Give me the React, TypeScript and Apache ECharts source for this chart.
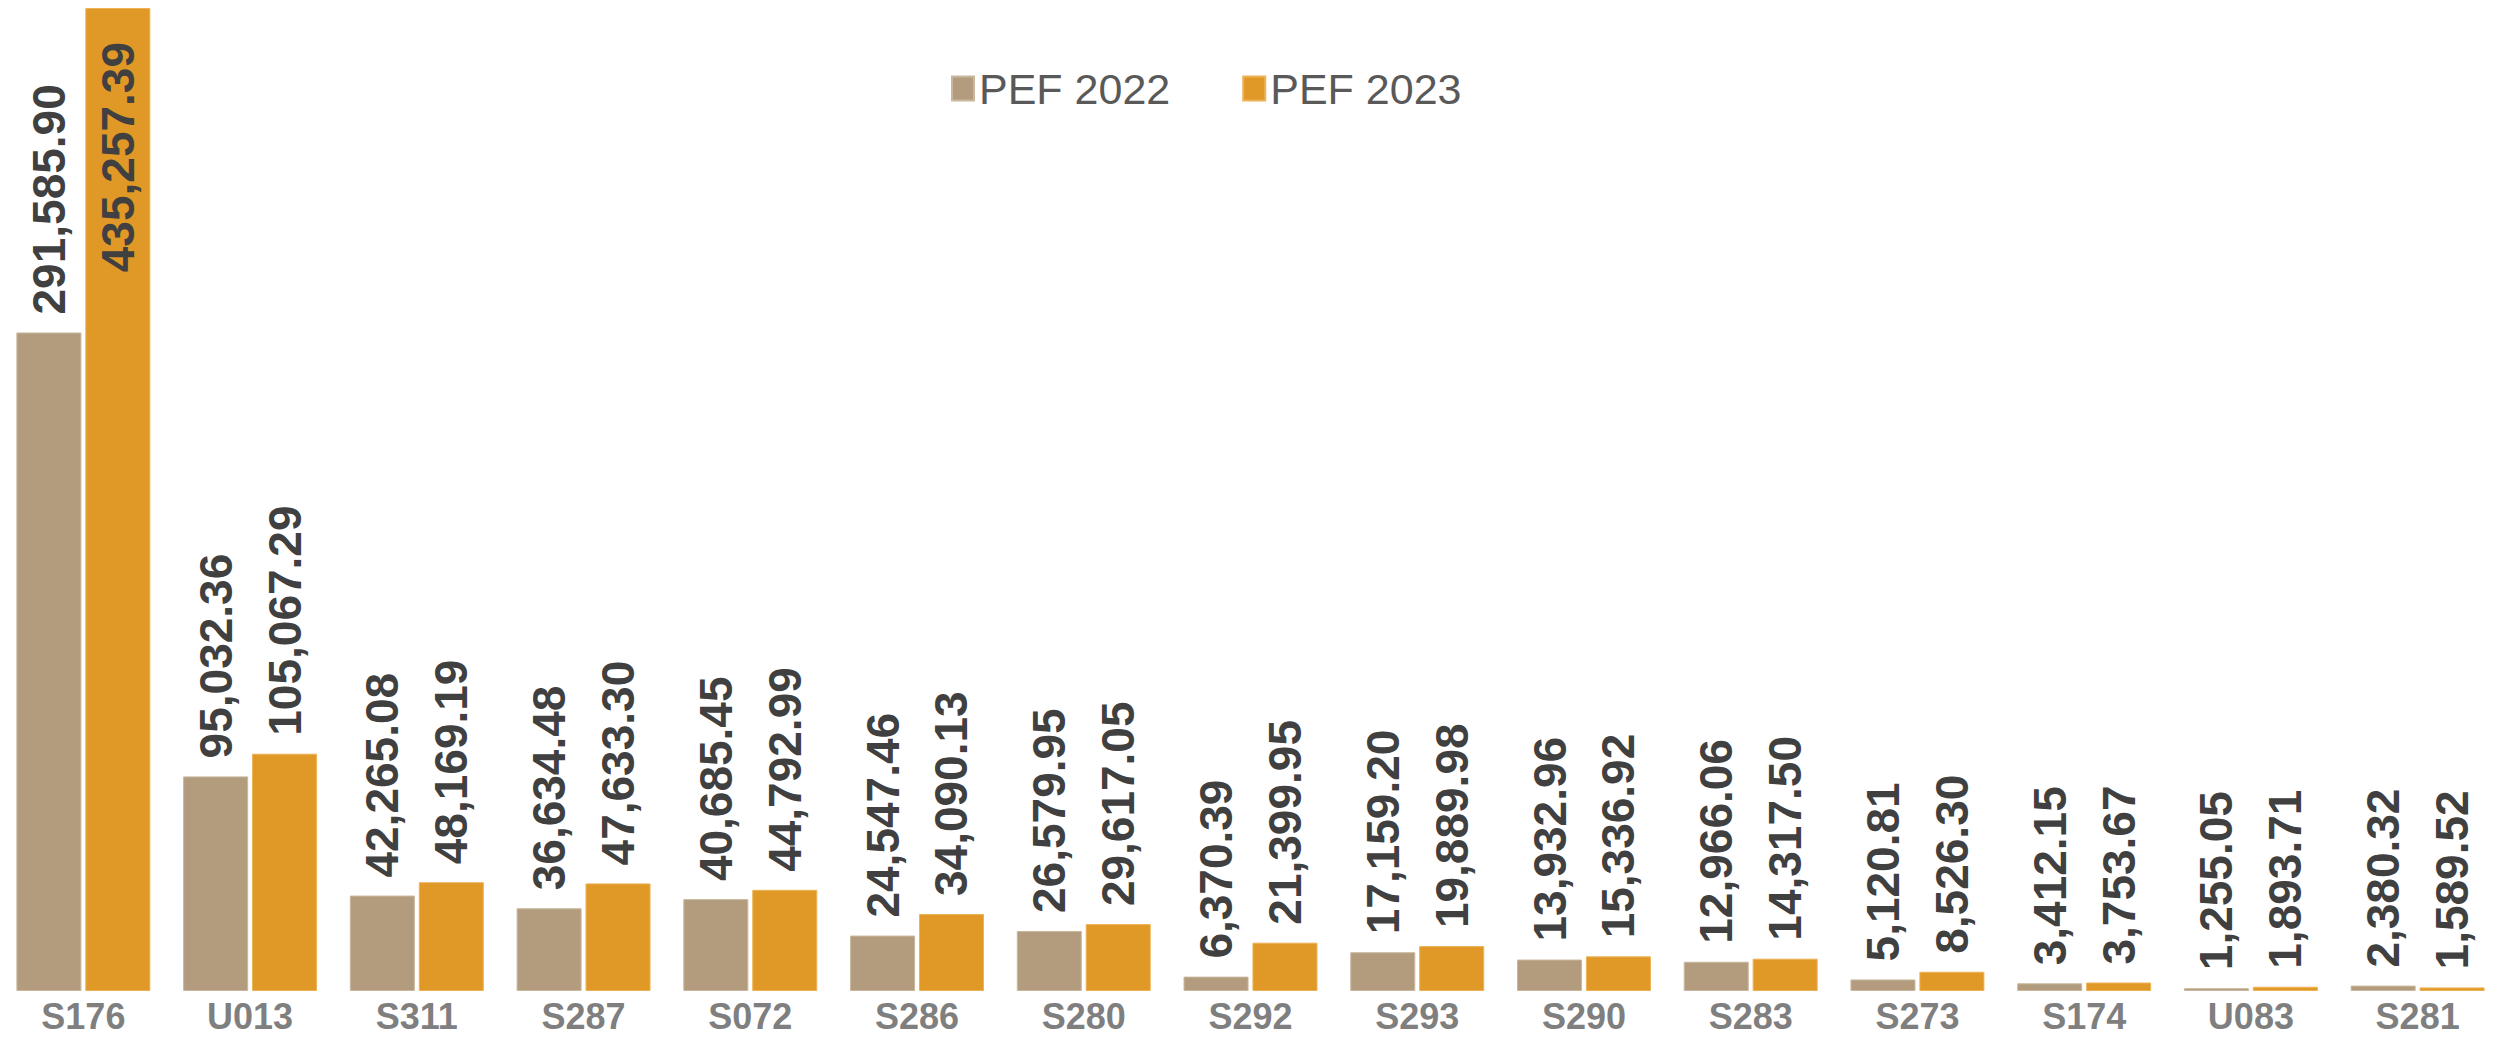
import React, { useEffect, useRef } from "react";
import * as echarts from "echarts";

const categories = ["S176", "U013", "S311", "S287", "S072", "S286", "S280", "S292", "S293", "S290", "S283", "S273", "S174", "U083", "S281"];
const pef2022 = [291585.90, 95032.36, 42265.08, 36634.48, 40685.45, 24547.46, 26579.95, 6370.39, 17159.20, 13932.96, 12966.06, 5120.81, 3412.15, 1255.05, 2380.32];
const pef2023 = [435257.39, 105067.29, 48169.19, 47633.30, 44792.99, 34090.13, 29617.05, 21399.95, 19889.98, 15336.92, 14317.50, 8526.30, 3753.67, 1893.71, 1589.52];
const seriesNames = ["PEF 2022", "PEF 2023"];

const fmt = (v: number) =>
  v.toLocaleString("en-US", { minimumFractionDigits: 2, maximumFractionDigits: 2 });

const labelBase = {
  show: true,
  position: "top",
  rotate: 90,
  align: "left",
  verticalAlign: "middle",
  distance: 18,
  color: "#404040",
  fontWeight: "bold",
  fontSize: 46,
  fontFamily: "Liberation Sans, Arial, sans-serif",
  formatter: (p: any) => fmt(p.value),
};

export default function App() {
  const ref = useRef<HTMLDivElement>(null);
  useEffect(() => {
    if (!ref.current) return;
    const chart = echarts.init(ref.current, undefined, { renderer: "svg" });
    const maxVal = Math.max(...pef2023, ...pef2022);
    const mkData = (arr: number[]) =>
      arr.map((v) =>
        v === maxVal
          ? { value: v, label: { position: "insideTop", align: "right", distance: 34 } }
          : v
      );
    chart.setOption({
      animation: false,
      backgroundColor: "#ffffff",
      legend: {
        left: 946,
        top: 62,
        itemWidth: 22,
        itemHeight: 24,
        itemGap: 72,
        icon: "rect",
        textStyle: {
          color: "#595959",
          fontSize: 43,
          fontFamily: "Liberation Sans, Arial, sans-serif",
          padding: [0, 0, 0, 0],
        },
        data: seriesNames,
      },
      grid: { left: 0, right: 0, top: 8, bottom: 48, containLabel: false },
      xAxis: {
        type: "category",
        data: categories,
        axisLine: { show: false },
        axisTick: { show: false },
        axisLabel: {
          color: "#7F7F7F",
          fontWeight: "bold",
          fontSize: 36,
          lineHeight: 38,
          fontFamily: "Liberation Sans, Arial, sans-serif",
          margin: 6,
          interval: 0,
        },
      },
      yAxis: {
        type: "value",
        min: 0,
        max: maxVal,
        show: false,
        splitLine: { show: false },
      },
      series: [
        {
          name: seriesNames[0],
          type: "bar",
          data: mkData(pef2022),
          barWidth: "39%",
          barGap: "6%",
          itemStyle: { color: "#B39C7D", borderColor: "#C9B89F", borderWidth: 1 },
          label: labelBase,
        },
        {
          name: seriesNames[1],
          type: "bar",
          data: mkData(pef2023),
          barWidth: "39%",
          itemStyle: { color: "#E09826", borderColor: "#EDB256", borderWidth: 1 },
          label: labelBase,
        },
      ],
    });
    return () => chart.dispose();
  }, []);
  return (
    <div
      ref={ref}
      style={{ position: "absolute", left: 0, top: 0, width: 2501, height: 1039 }}
    />
  );
}
